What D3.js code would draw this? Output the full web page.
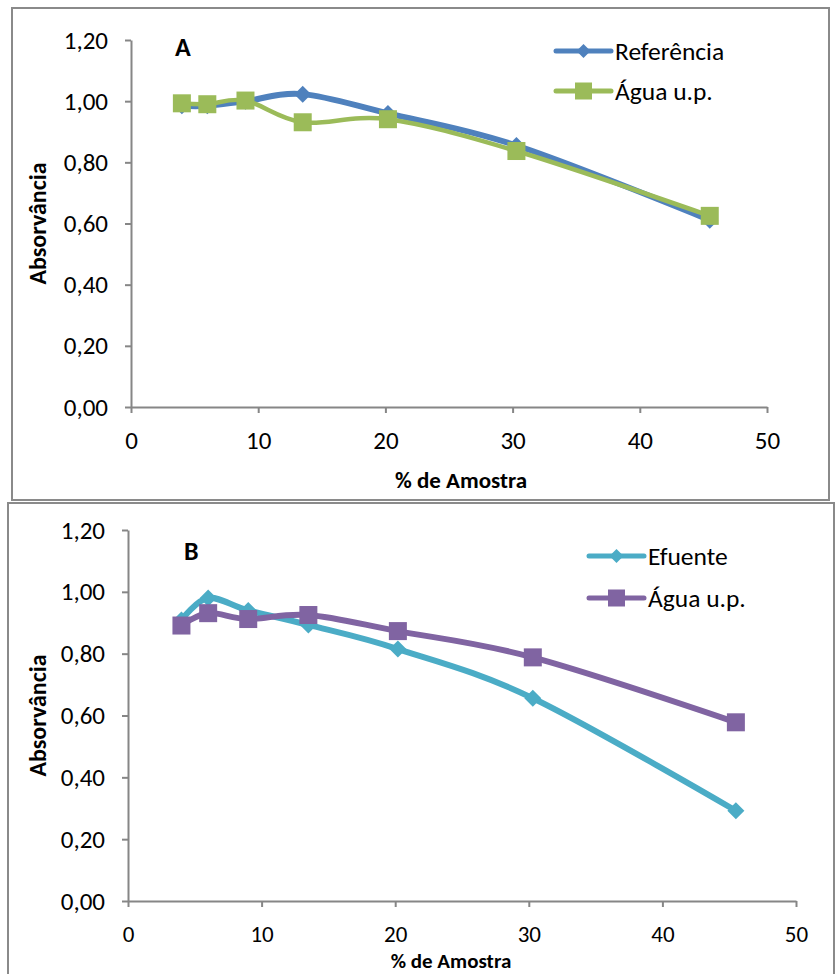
<!DOCTYPE html>
<html>
<head>
<meta charset="utf-8">
<script src="https://cdn.jsdelivr.net/npm/d3@7/dist/d3.min.js"></script>
<style>
  html, body { margin: 0; padding: 0; background: #fff; }
  svg { display: block; }
  text { font-family: Carlito, Calibri, Lato, sans-serif; fill: #000; }
</style>
</head>
<body>
<svg id="chart" width="835" height="974"></svg>
<script>
// Sample fraction (%) used in both panels
const sampleShare = [4.0, 6.0, 9.0, 13.5, 20.2, 30.3, 45.5];

// Panel A series
const referencia = [0.985, 0.985, 1.0, 1.023, 0.96, 0.855, 0.611];
const aguaA      = [0.993, 0.99, 1.002, 0.931, 0.941, 0.837, 0.625];

// Panel B series
const efuente = [0.909, 0.98, 0.94, 0.893, 0.815, 0.656, 0.292];
const aguaB   = [0.891, 0.931, 0.912, 0.925, 0.873, 0.788, 0.578];

// Axis ticks
const xTicks = [0, 10, 20, 30, 40, 50];
const yTicks = [0, 0.2, 0.4, 0.6, 0.8, 1.0, 1.2];

const seriesNamesA = ["Referência", "Água u.p."];
const seriesNamesB = ["Efuente", "Água u.p."];

const svg = d3.select("#chart");
const fmt = v => d3.format(".2f")(v).replace(".", ",");
const axisColor = "#868686";

const panels = [
  {
    tag: "A",
    frame: { x: 12, y: 8, w: 817, h: 492 },
    plot: { left: 131, right: 767, top: 40, bottom: 407 },
    xLabelY: 440, xLabelSize: 25, xTitleX: 461, xTitleY: 480, xTitleSize: 23,
    yTitleX: 38, tagPos: [175, 56],
    legend: { x: 556, y: 51, gap: 40 },
    series: [
      { name: seriesNamesA[0], values: referencia, color: "#4F81BD", marker: "diamond", width: 6 },
      { name: seriesNamesA[1], values: aguaA, color: "#9BBB59", marker: "square", width: 4.5 }
    ]
  },
  {
    tag: "B",
    frame: { x: 8, y: 503, w: 826, h: 480 },
    plot: { left: 128, right: 796, top: 530, bottom: 901 },
    xLabelY: 934, xLabelSize: 23, xTitleX: 451, xTitleY: 961, xTitleSize: 21,
    yTitleX: 38, tagPos: [184, 560],
    legend: { x: 589, y: 556, gap: 42 },
    series: [
      { name: seriesNamesB[0], values: efuente, color: "#4BACC6", marker: "diamond", width: 6 },
      { name: seriesNamesB[1], values: aguaB, color: "#8064A2", marker: "square", width: 6 }
    ]
  }
];

function drawMarker(g, type, cx, cy, color, size) {
  if (type === "diamond") {
    const r = size / 2;
    g.append("path")
      .attr("d", `M${cx},${cy - r}L${cx + r},${cy}L${cx},${cy + r}L${cx - r},${cy}Z`)
      .attr("fill", color);
  } else {
    g.append("rect")
      .attr("x", cx - size / 2).attr("y", cy - size / 2)
      .attr("width", size).attr("height", size)
      .attr("fill", color);
  }
}

panels.forEach(p => {
  const g = svg.append("g");

  // outer frame
  g.append("rect")
    .attr("x", p.frame.x).attr("y", p.frame.y)
    .attr("width", p.frame.w).attr("height", p.frame.h)
    .attr("fill", "#fff").attr("stroke", "#8a8a8a").attr("stroke-width", 2);

  const x = d3.scaleLinear().domain([0, 50]).range([p.plot.left, p.plot.right]);
  const y = d3.scaleLinear().domain([0, 1.2]).range([p.plot.bottom, p.plot.top]);

  // y axis
  const yAxis = g.append("g")
    .attr("transform", `translate(${p.plot.left},0)`)
    .call(d3.axisLeft(y).tickValues(yTicks).tickFormat(fmt).tickSize(6).tickSizeOuter(0).tickPadding(17));
  // x axis
  const xAxis = g.append("g")
    .attr("transform", `translate(0,${p.plot.bottom})`)
    .call(d3.axisBottom(x).tickValues(xTicks).tickFormat(d3.format("d")).tickSize(6).tickSizeOuter(0));

  [yAxis, xAxis].forEach(ax => {
    ax.select(".domain").attr("stroke", axisColor).attr("stroke-width", 2);
    ax.selectAll(".tick line").attr("stroke", axisColor).attr("stroke-width", 2);
    ax.selectAll(".tick text")
      .style("font-family", "Carlito, Calibri, Lato, sans-serif")
      .style("font-size", "25px").attr("fill", "#000");
  });
  xAxis.selectAll(".tick text")
    .style("font-size", p.xLabelSize + "px")
    .attr("y", p.xLabelY - p.plot.bottom).attr("dy", "0.35em");

  // axis titles
  g.append("text")
    .attr("x", p.xTitleX).attr("y", p.xTitleY)
    .attr("text-anchor", "middle").attr("dy", "0.35em")
    .style("font-size", p.xTitleSize + "px").style("font-weight", "bold")
    .text("% de Amostra");
  g.append("text")
    .attr("transform", `translate(${p.yTitleX},${(p.plot.top + p.plot.bottom) / 2}) rotate(-90)`)
    .attr("text-anchor", "middle").attr("dy", "0.35em")
    .style("font-size", "24px").style("font-weight", "bold")
    .text("Absorvância");

  // panel tag
  g.append("text")
    .attr("x", p.tagPos[0]).attr("y", p.tagPos[1])
    .style("font-size", "26px").style("font-weight", "bold")
    .text(p.tag);

  // series
  const line = d3.line()
    .x((d, i) => x(sampleShare[i]))
    .y(d => y(d))
    .curve(d3.curveCardinal.tension(0));

  p.series.forEach(s => {
    const sg = g.append("g");
    sg.append("path")
      .datum(s.values)
      .attr("d", line)
      .attr("fill", "none")
      .attr("stroke", s.color)
      .attr("stroke-width", s.width)
      .attr("stroke-linejoin", "round")
      .attr("stroke-linecap", "round");
    s.values.forEach((v, i) => {
      drawMarker(sg, s.marker, x(sampleShare[i]), y(v), s.color, s.marker === "diamond" ? 17 : 18);
    });
  });

  // legend
  p.series.forEach((s, i) => {
    const ly = p.legend.y + i * p.legend.gap;
    const lg = g.append("g");
    lg.append("line")
      .attr("x1", p.legend.x).attr("x2", p.legend.x + 55)
      .attr("y1", ly).attr("y2", ly)
      .attr("stroke", s.color).attr("stroke-width", 5).attr("stroke-linecap", "round");
    drawMarker(lg, s.marker, p.legend.x + 27.5, ly, s.color, s.marker === "diamond" ? 14 : 17);
    lg.append("text")
      .attr("x", p.legend.x + 59).attr("y", ly).attr("dy", "0.35em")
      .style("font-size", "25.5px")
      .text(s.name);
  });
});
</script>
</body>
</html>
